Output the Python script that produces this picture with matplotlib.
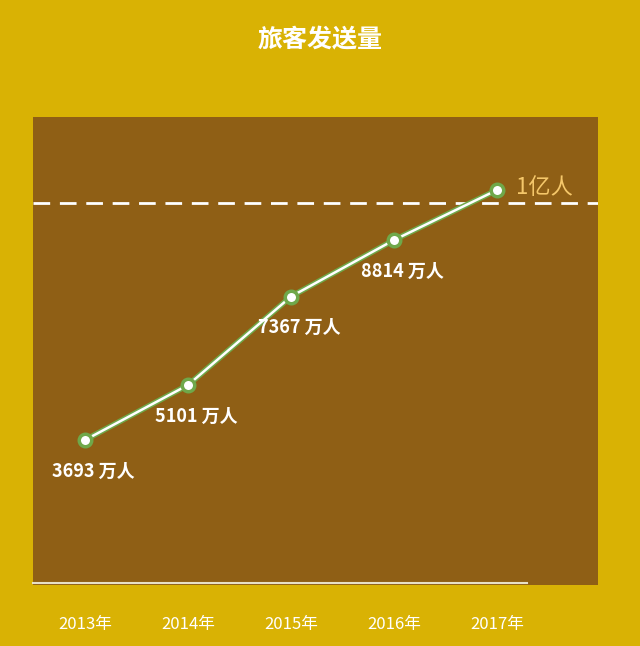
import matplotlib.pyplot as plt

plt.rcParams['font.family'] = ['Noto Sans CJK SC', 'DejaVu Sans']

years = [2013, 2014, 2015, 2016, 2017]
year_labels = ["2013年", "2014年", "2015年", "2016年", "2017年"]
passengers = [3693, 5101, 7367, 8814, 10095]
point_labels = ["3693 万人", "5101 万人", "7367 万人", "8814 万人", ""]
ref_level = 9760

fig = plt.figure(figsize=(6.4, 6.46), dpi=100)
fig.patch.set_facecolor("#D9B204")
ax = fig.add_axes([33 / 640, 1 - 585 / 646, 565 / 640, 468 / 646])
ax.set_facecolor("#8F5F15")

ax.axhline(ref_level, color="white", linestyle=(0, (6, 3.5)), linewidth=2)
ax.text(2017.18, ref_level + 400, "1亿人", color="#F5C76A", fontsize=16, ha="left", va="center")

ax.plot(years, passengers, color="#6FA84A", linewidth=4, zorder=3)
ax.plot(years, passengers, color="white", linewidth=1.8, zorder=4)
ax.plot(years, passengers, "o", markersize=9, markerfacecolor="white",
        markeredgecolor="#6FA84A", markeredgewidth=2.5, zorder=5)

for x, y, lab in zip(years, passengers, point_labels):
    if lab:
        ax.text(x + 0.08, y - 800, lab, color="white", fontsize=13, fontweight="bold",
                ha="center", va="center")

ax.plot([2012.495, 2017.29], [40, 40], color="#E8E0C8", linewidth=1.5, clip_on=False)

ax.set_xlim(2012.495, 2017.98)
ax.set_ylim(-20, 11964)
ax.set_xticks(years)
ax.set_xticklabels(year_labels, color="white", fontsize=12)
ax.tick_params(axis="x", length=0, pad=22)
ax.set_yticks([])
for s in ax.spines.values():
    s.set_visible(False)

fig.text(0.5, 1 - 40 / 646, "旅客发送量", color="white", fontsize=18, fontweight="bold",
         ha="center", va="center")

fig.savefig("out.png", dpi=100, facecolor=fig.get_facecolor())
